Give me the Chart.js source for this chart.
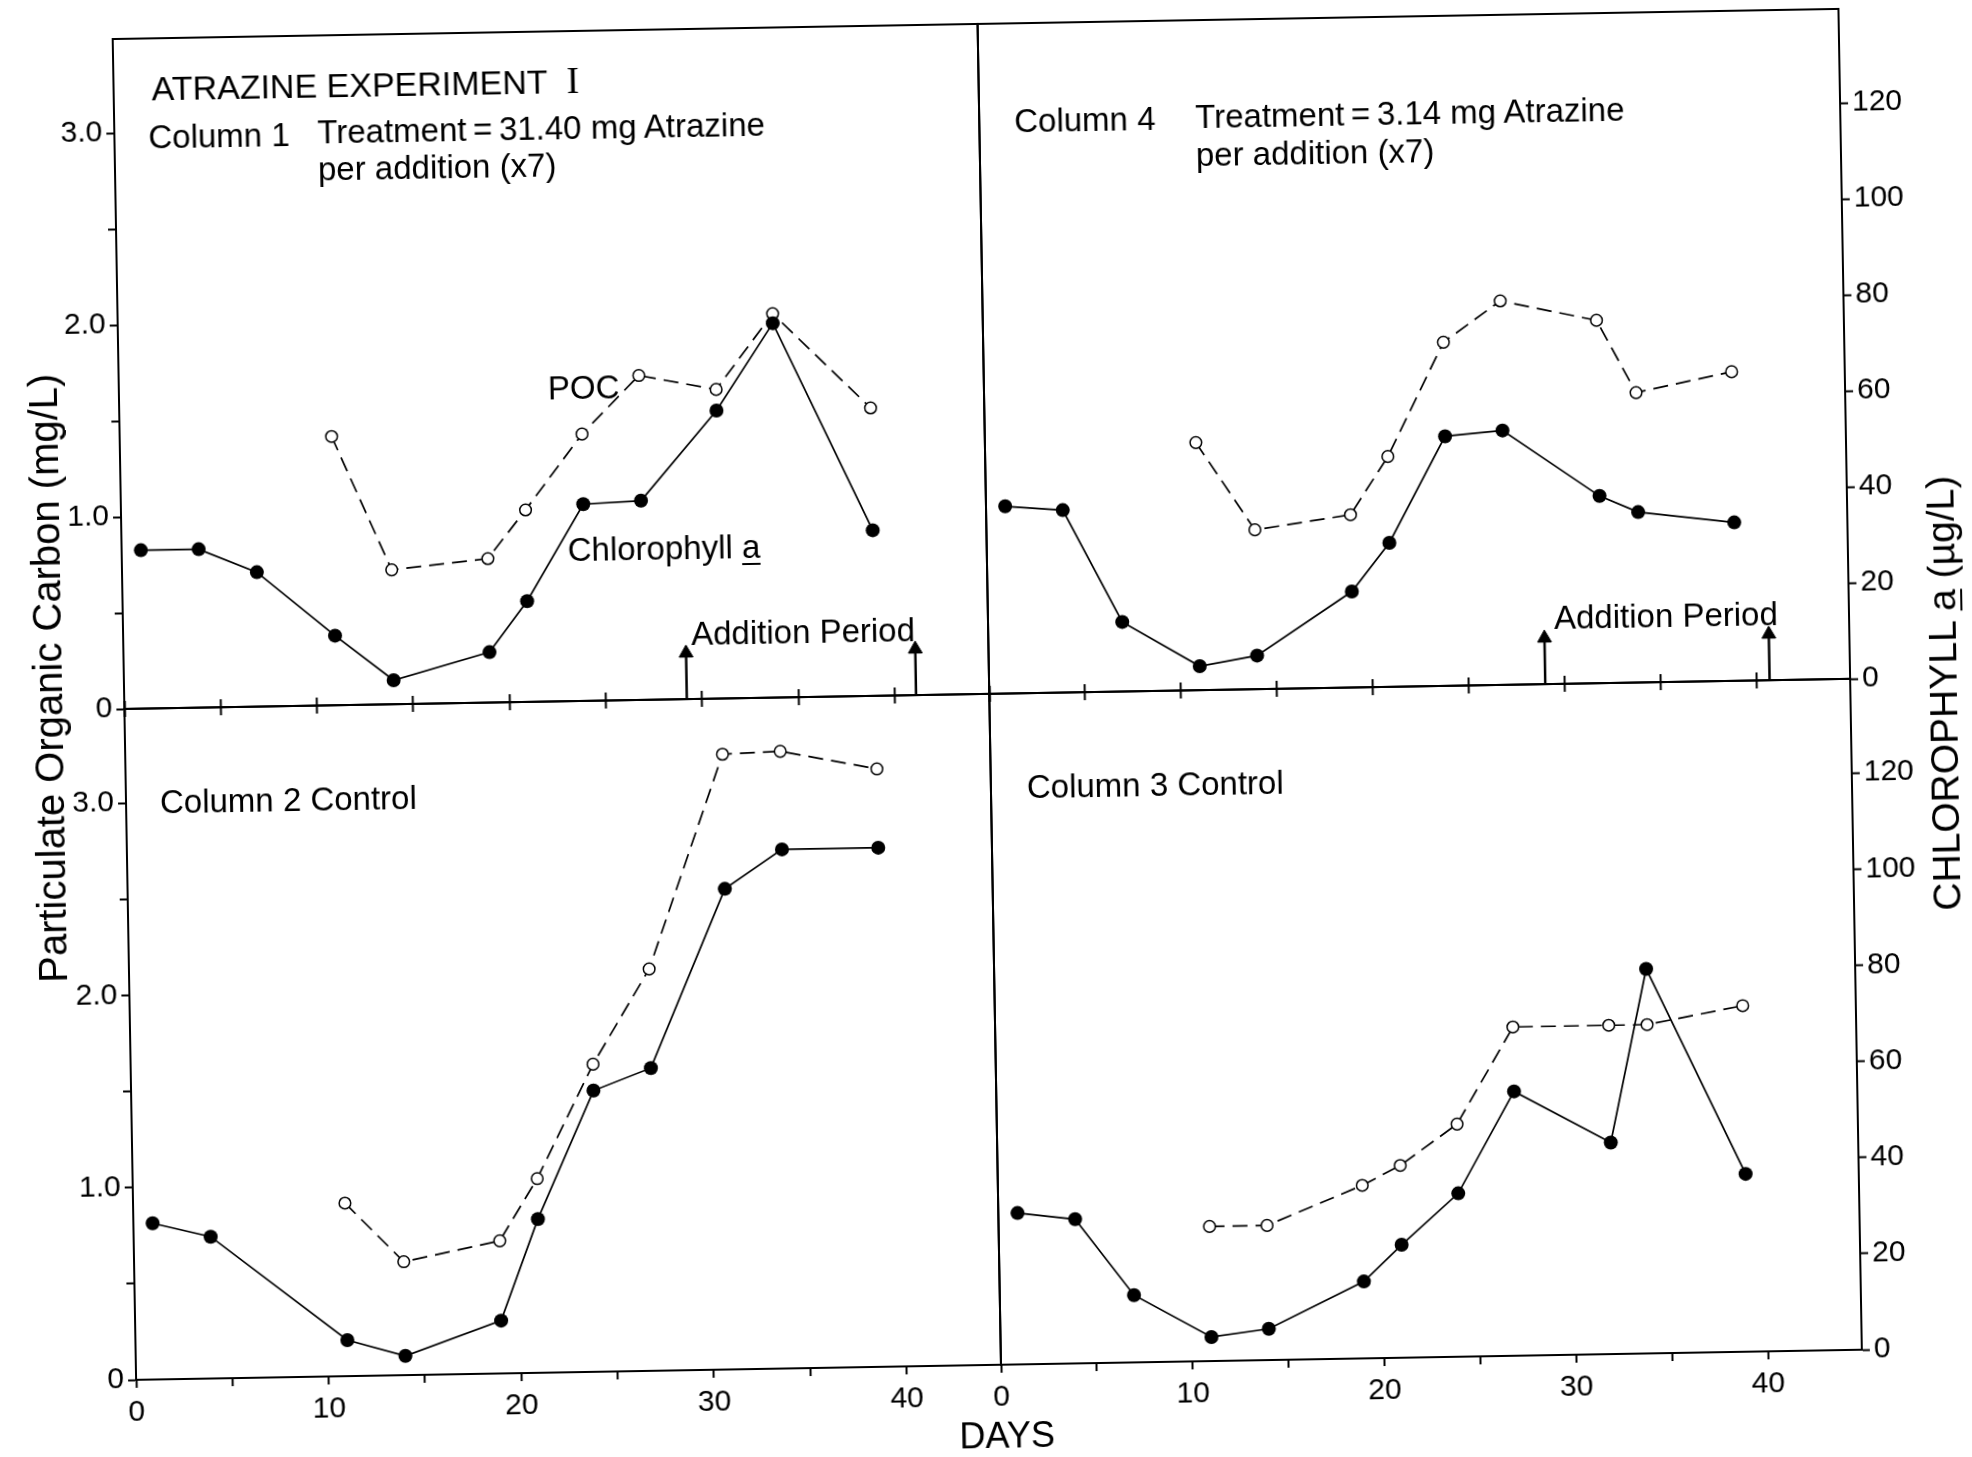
<!DOCTYPE html>
<html>
<head>
<meta charset="utf-8">
<script src="https://cdn.jsdelivr.net/npm/chart.js@4.4.1/dist/chart.umd.min.js"></script>
<style>
  html, body { margin: 0; padding: 0; background: #fff; overflow: hidden; width: 1972px; height: 1457px; }
  #figure { position: absolute; left: 0; top: 0; width: 1972px; height: 1457px;
            transform: rotate(-1deg); transform-origin: 0 0;
            font-family: 'Liberation Sans', Arial, sans-serif; color: #000; }
  #figure canvas { position: absolute; }
  .note { position: absolute; white-space: nowrap; font-size: 33px; line-height: 1; }
  .roman { font-family: 'Liberation Serif', serif; font-size: 38px; }
  .u { text-decoration: underline; text-decoration-thickness: 2px; text-underline-offset: 5px; }
  .title { position: absolute; white-space: nowrap; line-height: 1; transform: translate(-50%, -50%) rotate(-90deg); }
</style>
</head>
<body>
<div id="figure">
  <canvas id="c1"></canvas>
  <canvas id="c4"></canvas>
  <canvas id="c2"></canvas>
  <canvas id="c3"></canvas>

  <div class="note" style="left:150px;top:71px;font-size:34px">ATRAZINE EXPERIMENT&nbsp; <span class="roman">I</span></div>
  <div class="note" style="left:146px;top:123px">Column 1</div>
  <div class="note" style="left:315px;top:121px">Treatment&thinsp;=&thinsp;31.40 mg Atrazine</div>
  <div class="note" style="left:315px;top:158px">per addition (x7)</div>
  <div class="note" style="left:541px;top:381px">POC</div>
  <div class="note" style="left:558px;top:543px">Chlorophyll <span class="u">a</span></div>
  <div class="note" style="left:680px;top:629px">Addition Period</div>

  <div class="note" style="left:1012px;top:122px">Column 4</div>
  <div class="note" style="left:1193px;top:121px">Treatment&thinsp;=&thinsp;3.14 mg Atrazine</div>
  <div class="note" style="left:1193px;top:159px">per addition (x7)</div>
  <div class="note" style="left:1543px;top:628px">Addition Period</div>

  <div class="note" style="left:146px;top:788px">Column 2 Control</div>
  <div class="note" style="left:1013px;top:788px">Column 3 Control</div>

  <div class="title" style="left:36px;top:679px;font-size:40px">Particulate Organic Carbon (mg/L)</div>
  <div class="title" style="left:1931px;top:727px;font-size:39px">CHLOROPHYLL <span class="u">a</span> (µg/L)</div>
  <div class="note" style="left:982px;top:1435px;font-size:36px;transform:translateX(-50%)">DAYS</div>
</div>
<script>
// Column 1 (top left) - 31.40 mg atrazine
const col1ChlDays = [1, 4, 7, 11, 14, 19, 21, 24, 27, 31, 34, 39];
const col1Chl = [33, 33, 28, 14.5, 5, 10.5, 21, 41, 41.5, 60, 78, 34.5];
const col1PocDays = [11, 14, 19, 21, 24, 27, 31, 34, 39];
const col1Poc = [1.40, 0.70, 0.75, 1.00, 1.39, 1.69, 1.61, 2.00, 1.50];

// Column 4 (top right) - 3.14 mg atrazine
const col4ChlDays = [1, 4, 7, 11, 14, 19, 21, 24, 27, 32, 34, 39];
const col4Chl = [39, 38, 14.5, 5, 7, 20, 30, 52, 53, 39, 35.5, 33];
const col4PocDays = [11, 14, 19, 21, 24, 27, 32, 34, 39];
const col4Poc = [1.29, 0.83, 0.90, 1.20, 1.79, 2.00, 1.89, 1.51, 1.61];

// Column 2 (bottom left) - control
const col2ChlDays = [1, 4, 11, 14, 19, 21, 24, 27, 31, 34, 39];
const col2Chl = [32.5, 29.5, 7.5, 4, 11, 32, 58.5, 63, 100, 108, 108];
const col2PocDays = [11, 14, 19, 21, 24, 27, 31, 34, 39];
const col2Poc = [0.90, 0.59, 0.69, 1.01, 1.60, 2.09, 3.20, 3.21, 3.11];

// Column 3 (bottom right) - control
const col3ChlDays = [1, 4, 7, 11, 14, 19, 21, 24, 27, 32, 34, 39];
const col3Chl = [31.5, 30, 14, 5, 6.5, 16, 23.5, 34, 55, 44, 80, 37];
const col3PocDays = [11, 14, 19, 21, 24, 27, 32, 34, 39];
const col3Poc = [0.70, 0.70, 0.90, 1.00, 1.21, 1.71, 1.71, 1.71, 1.80];

// addition period (start, end day)
const additionDays1 = [29.2, 41.1];
const additionDays4 = [29.0, 40.7];

// tick labels
const dayTicks = [0, 10, 20, 30, 40];
const pocTicks = [0, 1, 2, 3];
const chlTicks = [0, 20, 40, 60, 80, 100, 120];

const black = '#000';
const M = 100;          // margin around every plot area on its canvas
const arrowTop = 0.24;  // arrow length in mg/L

function pts(xs, ys) { return xs.map((d, i) => ({ x: d, y: ys[i] })); }

function fixSize(scale) {
  if (scale.isHorizontal()) scale.height = M; else scale.width = M;
}

function axis(pos, min, max, step, marks, labelFn) {
  return {
    type: 'linear', position: pos, min: min, max: max,
    afterFit: fixSize,
    border: { display: true, color: black, width: 2 },
    grid: { drawOnChartArea: false, drawTicks: marks, tickLength: 8, tickWidth: 2, tickColor: black },
    ticks: {
      stepSize: step, includeBounds: false, autoSkip: false, maxRotation: 0,
      display: !!labelFn, callback: labelFn || (() => ''),
      padding: pos === 'bottom' ? 7 : 4, color: black,
      font: { family: 'Liberation Sans', size: 30 }
    }
  };
}

const dayLabel = v => dayTicks.includes(v) ? String(v) : '';
const pocLabel = v => pocTicks.includes(v) ? (v === 0 ? '0' : v.toFixed(1)) : '';
const chlLabel = v => chlTicks.includes(v) ? String(v) : '';

const panels = [
  { id: 'c1', x: 112, y: 41, w: 865, h: 670, left: true, top: true,
    chlDays: col1ChlDays, chl: col1Chl, pocDays: col1PocDays, poc: col1Poc, addition: additionDays1 },
  { id: 'c4', x: 977, y: 41, w: 861, h: 670, left: false, top: true,
    chlDays: col4ChlDays, chl: col4Chl, pocDays: col4PocDays, poc: col4Poc, addition: additionDays4 },
  { id: 'c2', x: 112, y: 711, w: 865, h: 671, left: true, top: false,
    chlDays: col2ChlDays, chl: col2Chl, pocDays: col2PocDays, poc: col2Poc, addition: [] },
  { id: 'c3', x: 977, y: 711, w: 861, h: 671, left: false, top: false,
    chlDays: col3ChlDays, chl: col3Chl, pocDays: col3PocDays, poc: col3Poc, addition: [] }
];

panels.forEach(p => {
  const cv = document.getElementById(p.id);
  cv.width = p.w + 2 * M;
  cv.height = p.h + 2 * M;
  cv.style.left = (p.x - M) + 'px';
  cv.style.top = (p.y - M) + 'px';

  const datasets = [
    {
      label: 'Chlorophyll a', data: pts(p.chlDays, p.chl), xAxisID: 'x', yAxisID: 'yr',
      showLine: true, borderColor: black, borderWidth: 1.7,
      pointRadius: 7, pointBackgroundColor: black, pointBorderColor: black, pointBorderWidth: 0
    },
    {
      label: 'POC', data: pts(p.pocDays, p.poc), xAxisID: 'x', yAxisID: 'yl',
      showLine: true, borderColor: black, borderWidth: 1.7, borderDash: [15, 8],
      pointRadius: 5.8, pointBackgroundColor: '#fff', pointBorderColor: black, pointBorderWidth: 1.5
    }
  ];
  p.addition.forEach(d => datasets.push({
    label: 'Addition', data: [{ x: d, y: 0 }, { x: d, y: arrowTop }], xAxisID: 'x', yAxisID: 'yl',
    showLine: true, borderColor: black, borderWidth: 2.5,
    pointRadius: [0, 8], pointStyle: 'triangle', pointBackgroundColor: black,
    pointBorderColor: black, pointBorderWidth: 1
  }));

  new Chart(cv, {
    type: 'scatter',
    data: { datasets: datasets },
    options: {
      responsive: false, animation: false, devicePixelRatio: 1,
      layout: { padding: 0, autoPadding: false },
      plugins: { legend: { display: false }, tooltip: { enabled: false } },
      scales: {
        x: axis('bottom', 0, 44.9, 5, true, p.top ? null : dayLabel),
        xt: axis('top', 0, 44.9, 5, !p.top, null),
        yl: axis('left', 0, 3.49, 0.5, p.left, p.left ? pocLabel : null),
        yr: axis('right', 0, 139.6, 20, !p.left, p.left ? null : chlLabel)
      }
    }
  });
});
</script>
</body>
</html>
